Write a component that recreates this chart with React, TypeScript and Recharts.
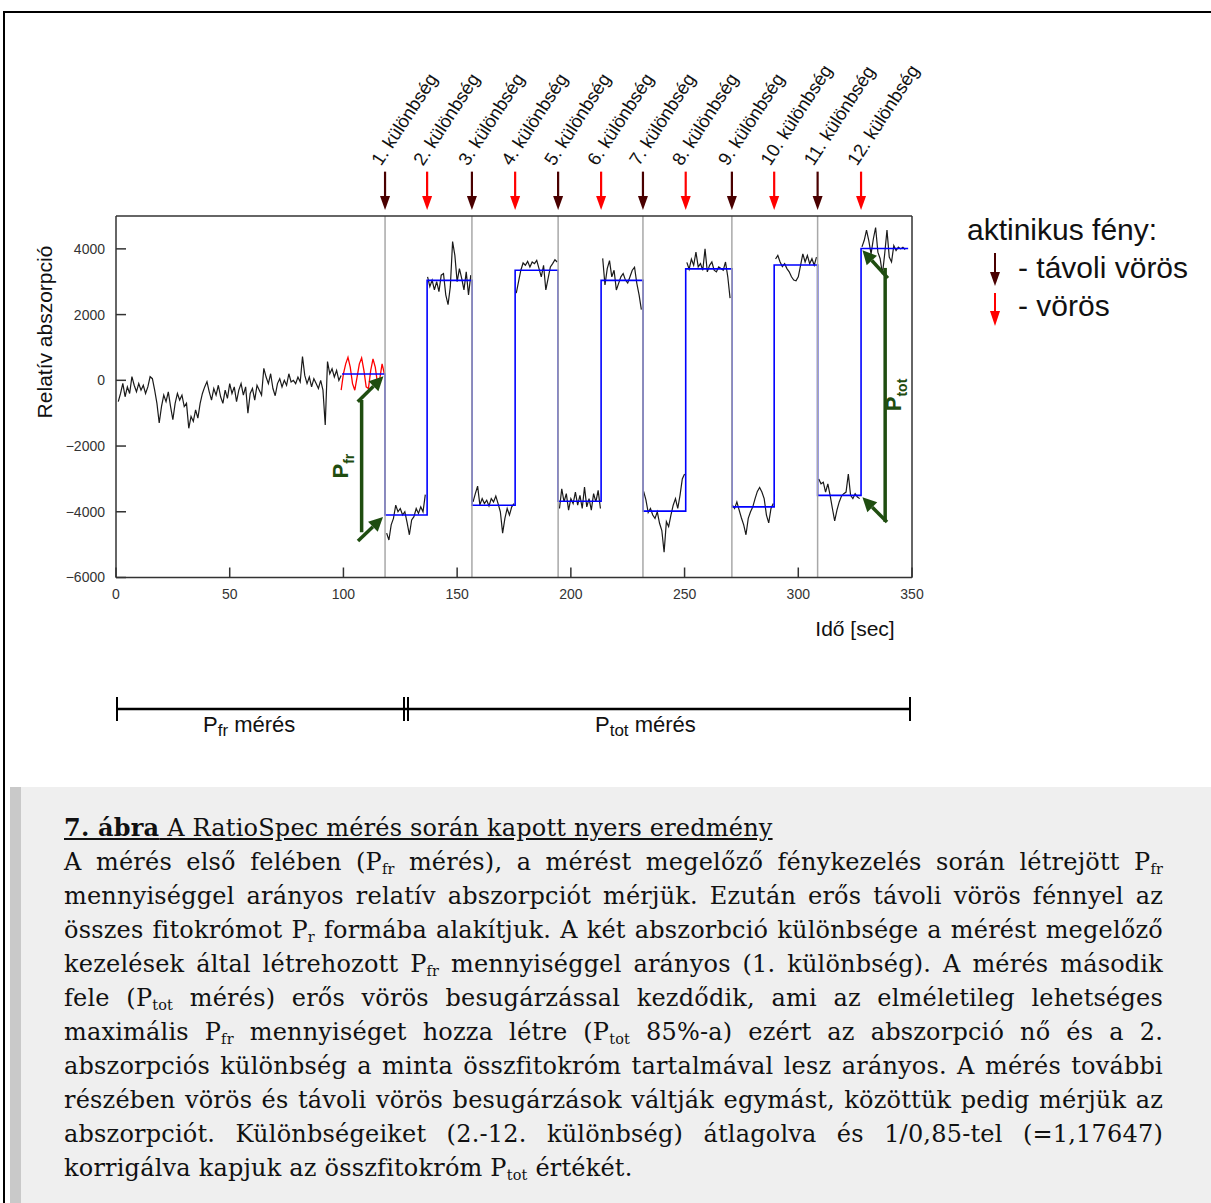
import React from "react";
import { LineChart, Line, XAxis, YAxis, ReferenceLine } from "recharts";

// axes
const xTicks = [0, 50, 100, 150, 200, 250, 300, 350];
const yTicks = [-6000, -4000, -2000, 0, 2000, 4000];

// Pfr measurement, black trace, 1 s steps from t = 1
const pfrStart = 1;
const pfrTrace = [
  -650, -400, -90, -500, -200, -400, 110, -150, -350, -100,
  -300, -150, -400, -200, 110, 50, -300, -700, -1300, -800,
  -450, -650, -350, -800, -1200, -700, -400, -600, -450, -800,
  -700, -1460, -1100, -1250, -900, -1150, -700, -400, -200, -40,
  -350, -600, -250, -450, -150, -500, -700, -300, -550, -100,
  -400, -200, -650, -300, -100, -450, -200, -1000, -400, -250,
  -600, -150, -300, -450, 365, 100, -100, 200, -250, -470,
  -100, 50, -200, 0, -150, 200, -50, 0, -100, 100,
  -50, 720, 150, -100, 100, -200, 50, -100, -250, 0,
  -300, -1360, 570, 200, 350, 100, 300, 0, 150,
];

// red part at the end of the Pfr measurement, 1 s steps from t = 99
const redStart = 99;
const redTrace = [
  -300, 200, 500, 700, 400, -100, -300, 100, 500, 680,
  300, -200, -250, 300, 650, 400, -100, 50, 500, 200,
];

// actinic light switches [sec] and fitted levels
const switchTimes = [118.3, 136.8, 156.5, 175.5, 194.4, 213.3, 231.7, 250.5, 270.8, 289.4, 308.5, 327.6];
const switchLabels = [
  "1. különbség", "2. különbség", "3. különbség", "4. különbség", "5. különbség", "6. különbség",
  "7. különbség", "8. különbség", "9. különbség", "10. különbség", "11. különbség", "12. különbség",
];
const stepStart = 99.4;
const stepEnd = 348.3;
const stepLevels = [190, -4100, 3040, -3800, 3350, -3680, 3040, -3980, 3390, -3850, 3510, -3500, 4010];

// measured traces after each switch, 1 s steps
const segStarts = [119, 137, 157, 176, 195, 214, 232, 251, 271, 290, 309, 328];
const seg1 = [-4650, -4860, -4400, -4200, -3800, -4000, -3900, -4100, -4000, -4330, -4700, -4250, -4150, -3900, -4050, -3850, -4000, -3480];
const seg2 = [3150, 2850, 3050, 2750, 3000, 2700, 3200, 3250, 2600, 2300, 2850, 4220, 3800, 3000, 3400, 3100, 2750, 3300, 2600, 3200];
const seg3 = [-3700, -3450, -3220, -3790, -3600, -3750, -3650, -3820, -3600, -3700, -3520, -3750, -4000, -4650, -4200, -3900, -4100, -3850, -3750];
const seg4 = [2650, 3000, 3350, 3570, 3500, 3620, 3450, 3600, 3550, 3650, 3400, 3150, 3500, 2750, 3100, 3450, 3550, 3670, 3600];
const seg5 = [-3900, -3300, -3700, -3450, -3950, -3600, -3750, -3400, -3800, -3500, -3900, -3250, -3850, -3600, -3950, -3450, -3700, -3350, -3900];
const seg6 = [3710, 2900, 3400, 3640, 3150, 3350, 2750, 2950, 3150, 3250, 3050, 2960, 3150, 3350, 3440, 2950, 2600, 2150];
const seg7 = [-3380, -3640, -4020, -3900, -4100, -4200, -4000, -4350, -4570, -5230, -4300, -4450, -4100, -3800, -3600, -3900, -3500, -3000, -2850];
const seg8 = [3590, 3380, 3690, 3500, 3900, 3450, 3550, 3350, 4000, 3300, 3500, 3600, 3350, 3300, 3450, 3400, 3350, 3600, 3150, 2500];
const seg9 = [-3800, -3900, -3700, -3950, -4190, -4400, -4700, -4200, -4000, -3850, -3600, -3380, -3260, -3400, -3600, -4100, -4340, -3900, -3750];
const seg10 = [3690, 3800, 3600, 3460, 3550, 3400, 3300, 3150, 3050, 3030, 3150, 3500, 3850, 3600, 3800, 3550, 3700, 3500, 3750];
const seg11 = [-3000, -3150, -3100, -3400, -3150, -3500, -3900, -4280, -3950, -3700, -3520, -3450, -3400, -2850, -3500, -3600, -3450, -3550, -3600];
const seg12 = [4060, 4260, 4570, 4250, 3850, 4300, 4650, 3900, 3700, 3230, 3850, 4570, 3750, 3600, 4100, 3950, 4050, 4000, 4050, 3980];
const segTraces = [seg1, seg2, seg3, seg4, seg5, seg6, seg7, seg8, seg9, seg10, seg11, seg12];

type Pt = { t: number; v: number | null };

const blackData: Pt[] = [];
pfrTrace.forEach((v, i) => blackData.push({ t: pfrStart + i, v }));
blackData.push({ t: 99.5, v: null });
segTraces.forEach((seg, k) => {
  seg.forEach((v, i) => blackData.push({ t: segStarts[k] + i, v }));
  blackData.push({ t: segStarts[k] + seg.length - 0.5, v: null });
});

const redData: Pt[] = redTrace.map((v, i) => ({ t: redStart + i, v }));

const stepData: Pt[] = [
  { t: stepStart, v: stepLevels[0] },
  ...switchTimes.map((t, i) => ({ t, v: stepLevels[i + 1] })),
  { t: stepEnd, v: stepLevels[stepLevels.length - 1] },
];

const FAR_RED = "#4a0000";
const RED = "#ff0000";
const GREEN = "#1f4d10";
const SANS = "Liberation Sans, Arial, sans-serif";

function headPoints(x1: number, y1: number, x2: number, y2: number, head: number, half: number) {
  const len = Math.hypot(x2 - x1, y2 - y1) || 1;
  const ux = (x2 - x1) / len;
  const uy = (y2 - y1) / len;
  const bx = x2 - ux * head;
  const by = y2 - uy * head;
  return {
    bx,
    by,
    pts: `${x2},${y2} ${bx - uy * half},${by + ux * half} ${bx + uy * half},${by - ux * half}`,
  };
}

const arrowShape = (color: string, width: number, head: number, half: number) => (p: any) => {
  const { x1, y1, x2, y2 } = p;
  const h = headPoints(x1, y1, x2, y2, head, half);
  return (
    <g>
      <line x1={x1} y1={y1} x2={h.bx} y2={h.by} stroke={color} strokeWidth={width} />
      <polygon points={h.pts} fill={color} />
    </g>
  );
};

const switchShape = (i: number) => (p: any) => {
  const { x1, y1, x2, y2 } = p;
  const color = i % 2 === 0 ? FAR_RED : RED;
  const h = headPoints(x1, y1, x2, y2, 14, 5);
  const tx = x1 - 4;
  const ty = y1 - 5;
  return (
    <g>
      <line x1={x1} y1={y1} x2={h.bx} y2={h.by} stroke={color} strokeWidth={2.2} />
      <polygon points={h.pts} fill={color} />
      <text x={tx} y={ty} transform={`rotate(-57 ${tx} ${ty})`} fontFamily={SANS} fontSize={18.5} fill="#111">
        {switchLabels[i]}
      </text>
    </g>
  );
};

const vertLabel = (sub: string, dx: number) => (p: any) => {
  const { x1, y1, x2, y2 } = p;
  const cx = x1 + dx;
  const cy = (y1 + y2) / 2;
  return (
    <g>
      <line x1={x1} y1={y1} x2={x2} y2={y2} stroke={GREEN} strokeWidth={3.5} />
      <text
        x={cx}
        y={cy}
        transform={`rotate(-90 ${cx} ${cy})`}
        textAnchor="middle"
        fontFamily={SANS}
        fontWeight="bold"
        fontSize={22}
        fill={GREEN}
      >
        P
        <tspan fontSize={14} dy={6}>
          {sub}
        </tspan>
      </text>
    </g>
  );
};

const fmtY = (v: number) => (v < 0 ? "\u2212" + Math.abs(v) : String(v));

function Sub({ children }: { children: React.ReactNode }) {
  return <sub style={{ fontSize: "0.6em", verticalAlign: "-0.25em", lineHeight: 0 }}>{children}</sub>;
}

const captionLines: React.ReactNode[] = [
  <>A mérés első felében (P<Sub>fr</Sub> mérés), a mérést megelőző fénykezelés során létrejött P<Sub>fr</Sub></>,
  <>mennyiséggel arányos relatív abszorpciót mérjük. Ezután erős távoli vörös fénnyel az</>,
  <>összes fitokrómot P<Sub>r</Sub> formába alakítjuk. A két abszorbció különbsége a mérést megelőző</>,
  <>kezelések által létrehozott P<Sub>fr</Sub> mennyiséggel arányos (1. különbség). A mérés második</>,
  <>fele (P<Sub>tot</Sub> mérés) erős vörös besugárzással kezdődik, ami az elméletileg lehetséges</>,
  <>maximális P<Sub>fr</Sub> mennyiséget hozza létre (P<Sub>tot</Sub> 85%-a) ezért az abszorpció nő és a 2.</>,
  <>abszorpciós különbség a minta összfitokróm tartalmával lesz arányos. A mérés további</>,
  <>részében vörös és távoli vörös besugárzások váltják egymást, közöttük pedig mérjük az</>,
  <>abszorpciót. Különbségeiket (2.-12. különbség) átlagolva és 1/0,85-tel (=1,17647)</>,
];

export default function App() {
  return (
    <div style={{ position: "relative", width: 1211, height: 1203, overflow: "hidden", background: "#fff" }}>
      <style>{"body{margin:0}"}</style>
      {/* outer frame */}
      <div
        style={{
          position: "absolute",
          left: 3,
          top: 11,
          width: 1230,
          height: 1220,
          borderLeft: "2px solid #000",
          borderTop: "2px solid #000",
        }}
      />

      <div style={{ position: "absolute", left: 0, top: 0 }}>
        <LineChart width={1211} height={760} margin={{ top: 215, right: 298, bottom: 142.5, left: 56 }}>
          <XAxis
            dataKey="t"
            type="number"
            domain={[0, 350]}
            ticks={xTicks}
            allowDataOverflow
            height={40}
            tickSize={-10}
            tickMargin={22}
            stroke="#333"
            strokeWidth={1.5}
            tick={{ fontFamily: SANS, fontSize: 14, fill: "#333" }}
          />
          <XAxis
            xAxisId="top"
            orientation="top"
            dataKey="t"
            type="number"
            domain={[0, 350]}
            ticks={xTicks}
            allowDataOverflow
            height={1}
            tickSize={-10}
            stroke="#333"
            strokeWidth={1.5}
            tick={false}
          />
          <YAxis
            type="number"
            domain={[-6000, 5000]}
            ticks={yTicks}
            allowDataOverflow
            width={60}
            tickSize={-10}
            tickMargin={21}
            tickFormatter={fmtY}
            stroke="#333"
            strokeWidth={1.5}
            tick={{ fontFamily: SANS, fontSize: 14, fill: "#333" }}
          />
          <YAxis
            yAxisId="right"
            orientation="right"
            type="number"
            domain={[-6000, 5000]}
            ticks={yTicks}
            allowDataOverflow
            width={1}
            tickSize={-10}
            stroke="#333"
            strokeWidth={1.5}
            tick={false}
          />

          <Line
            xAxisId="top"
            yAxisId="right"
            data={stepData}
            dataKey="v"
            stroke="none"
            dot={false}
            isAnimationActive={false}
          />
          <Line
            data={blackData}
            dataKey="v"
            type="linear"
            stroke="#1a1a1a"
            strokeWidth={1.2}
            dot={false}
            isAnimationActive={false}
          />
          <Line
            data={redData}
            dataKey="v"
            type="linear"
            stroke={RED}
            strokeWidth={1.3}
            dot={false}
            isAnimationActive={false}
          />
          <Line
            data={stepData}
            dataKey="v"
            type="stepAfter"
            stroke="#0000ff"
            strokeWidth={1.6}
            dot={false}
            isAnimationActive={false}
          />

          {switchTimes
            .filter((_, i) => i % 2 === 0)
            .map((t) => (
              <ReferenceLine key={"g" + t} x={t} stroke="#a8a8a8" strokeWidth={1.5} />
            ))}

          {switchTimes.map((t, i) => (
            <ReferenceLine
              key={"a" + t}
              segment={[
                { x: t, y: 6350 },
                { x: t, y: 5180 },
              ]}
              ifOverflow="visible"
              shape={switchShape(i)}
            />
          ))}

          {/* Pfr difference */}
          <ReferenceLine
            segment={[
              { x: 108, y: -600 },
              { x: 108, y: -4620 },
            ]}
            ifOverflow="visible"
            shape={vertLabel("fr", -14)}
          />
          <ReferenceLine
            segment={[
              { x: 106.3, y: -650 },
              { x: 117.6, y: 120 },
            ]}
            ifOverflow="visible"
            shape={arrowShape(GREEN, 3.5, 14, 7)}
          />
          <ReferenceLine
            segment={[
              { x: 106.4, y: -4890 },
              { x: 117.4, y: -4160 },
            ]}
            ifOverflow="visible"
            shape={arrowShape(GREEN, 3.5, 14, 7)}
          />

          {/* Ptot difference */}
          <ReferenceLine
            segment={[
              { x: 338.2, y: 3420 },
              { x: 338.2, y: -4310 },
            ]}
            ifOverflow="visible"
            shape={vertLabel("tot", 16)}
          />
          <ReferenceLine
            segment={[
              { x: 339.4, y: 3110 },
              { x: 328.2, y: 3960 },
            ]}
            ifOverflow="visible"
            shape={arrowShape(GREEN, 3.5, 14, 7)}
          />
          <ReferenceLine
            segment={[
              { x: 339.0, y: -4310 },
              { x: 328.2, y: -3560 },
            ]}
            ifOverflow="visible"
            shape={arrowShape(GREEN, 3.5, 14, 7)}
          />
        </LineChart>
      </div>

      {/* labels, legend and measurement bracket */}
      <svg
        width={1211}
        height={780}
        style={{ position: "absolute", left: 0, top: 0, pointerEvents: "none" }}
        fontFamily={SANS}
      >
        <text x={52} y={332} transform="rotate(-90 52 332)" textAnchor="middle" fontSize={21} fill="#111">
          Relatív abszorpció
        </text>
        <text x={855} y={636} textAnchor="middle" fontSize={21} fill="#111">
          Idő [sec]
        </text>

        <text x={967} y={240} fontSize={30} fill="#111">
          aktinikus fény:
        </text>
        <line x1={995} y1={253} x2={995} y2={274} stroke={FAR_RED} strokeWidth={2} />
        <polygon points="990,272 1000,272 995,286" fill={FAR_RED} />
        <text x={1018} y={278} fontSize={30} fill="#111">
          - távoli vörös
        </text>
        <line x1={995} y1={293} x2={995} y2={313} stroke={RED} strokeWidth={2} />
        <polygon points="990,311 1000,311 995,326" fill={RED} />
        <text x={1018} y={316} fontSize={30} fill="#111">
          - vörös
        </text>

        <line x1={117} y1={709} x2={910} y2={709} stroke="#000" strokeWidth={2.5} />
        <line x1={117} y1={697} x2={117} y2={721} stroke="#000" strokeWidth={2} />
        <line x1={404} y1={697} x2={404} y2={721} stroke="#000" strokeWidth={2} />
        <line x1={408} y1={697} x2={408} y2={721} stroke="#000" strokeWidth={2} />
        <line x1={910} y1={697} x2={910} y2={721} stroke="#000" strokeWidth={2} />
        <text x={203} y={732} fontSize={22} fill="#111">
          P<tspan fontSize={17} dy={4}>fr</tspan>
          <tspan dy={-4}> mérés</tspan>
        </text>
        <text x={595} y={732} fontSize={22} fill="#111">
          P<tspan fontSize={17} dy={4}>tot</tspan>
          <tspan dy={-4}> mérés</tspan>
        </text>
      </svg>

      {/* caption */}
      <div
        style={{
          position: "absolute",
          left: 10,
          top: 787,
          width: 1211,
          height: 420,
          background: "#efefef",
          borderLeft: "11px solid #c9c9c9",
        }}
      />
      <div
        style={{
          position: "absolute",
          left: 64,
          top: 811,
          width: 1099,
          fontFamily: "DejaVu Serif, serif",
          fontSize: 24,
          letterSpacing: 0.2,
          lineHeight: "34px",
          color: "#111",
        }}
      >
        <div style={{ textDecoration: "underline" }}>
          <b>7. ábra</b> A RatioSpec mérés során kapott nyers eredmény
        </div>
        {captionLines.map((l, i) => (
          <div key={i} style={{ textAlign: "justify", textAlignLast: "justify" }}>
            {l}
          </div>
        ))}
        <div>
          korrigálva kapjuk az összfitokróm P<Sub>tot</Sub> értékét.
        </div>
      </div>
    </div>
  );
}
